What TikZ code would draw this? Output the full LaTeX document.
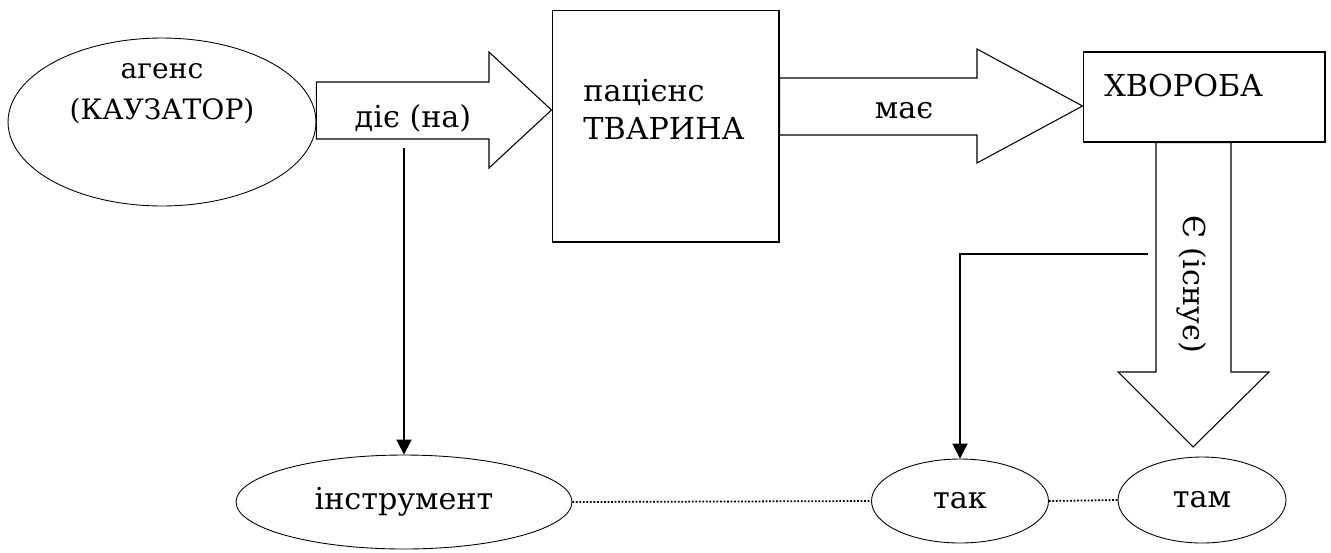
\documentclass[tikz,border=0pt]{standalone}
\usepackage{fontspec}
\setmainfont{DejaVu Serif}[Scale=0.86]
\usepackage{tikz}
\usetikzlibrary{arrows.meta,shapes.geometric}

\begin{document}
\begin{tikzpicture}[x=0.02cm,y=-0.02cm,font=\fontsize{20}{22}\selectfont,
  oval/.style={draw,ellipse,line width=0.5pt,inner sep=0pt},
  box/.style={draw,rectangle,line width=0.6pt,inner sep=0pt},
  fatarrow/.style={draw,line width=0.6pt,line join=miter},
  conn/.style={line width=1.1pt,-{Triangle[length=3mm,width=3mm]}},
  link/.style={dash pattern=on 1pt off 1pt,line width=1pt}]
\useasboundingbox (0,0) rectangle (1331,552);
\node[oval,minimum width=6.16cm,minimum height=3.36cm] (agens) at (162,122) {};
\node[align=center,font=\fontsize{18.6}{23.5}\selectfont] (agenstxt) at (162,94) {агенс\\(КАУЗАТОР)};
\node[box,minimum width=4.54cm,minimum height=4.64cm] (patient) at (665.5,126) {};
\node[anchor=west,align=left,font=\fontsize{20}{21.6}\selectfont] (patienttxt) at (578,109) {пацієнс\\ТВАРИНА};
\node[box,minimum width=4.84cm,minimum height=1.8cm] (disease) at (1204,97) {};
\node[anchor=west] (diseasetxt) at (1099,85) {ХВОРОБА};
\node[oval,minimum width=6.72cm,minimum height=1.88cm] (instr) at (404,502) {інструмент};
\node[oval,minimum width=3.54cm,minimum height=1.68cm] (tak) at (960,501) {так};
\node[oval,minimum width=3.36cm,minimum height=1.72cm] (tam) at (1202,500) {там};
% block arrows
\draw[fatarrow] (agens.east |- 0,82) -- (489,82) -- (489,52) -- (patient.west |- 0,110)
  -- (489,168) -- (489,139) -- (agens.east |- 0,139) -- cycle;
\node (acts) at (413,118) {діє (на)};
\draw[fatarrow] (patient.east |- 0,78) -- (977,78) -- (977,49) -- (disease.west |- 0,106)
  -- (977,163) -- (977,135) -- (patient.east |- 0,135) -- cycle;
\node (has) at (904,111) {має};
\draw[fatarrow] (1156,0 |- disease.south) -- (1156,372) -- (1118,372) -- (1193,447)
  -- (1269,372) -- (1231,372) -- (1231,0 |- disease.south) -- cycle;
\node[rotate=-90] (exists) at (1192,284) {Є (існує)};
% connectors
\coordinate (actsfoot) at (404,148);
\draw[conn] (actsfoot) -- (instr.north);
\coordinate (existsfoot) at (1148,254);
\draw[conn] (existsfoot) -- (existsfoot -| tak.north) -- (tak.north);
\draw[link] (instr.east) -- (tak.west);
\draw[link] (tak.east) -- (tam.west);
\end{tikzpicture}
\end{document}
